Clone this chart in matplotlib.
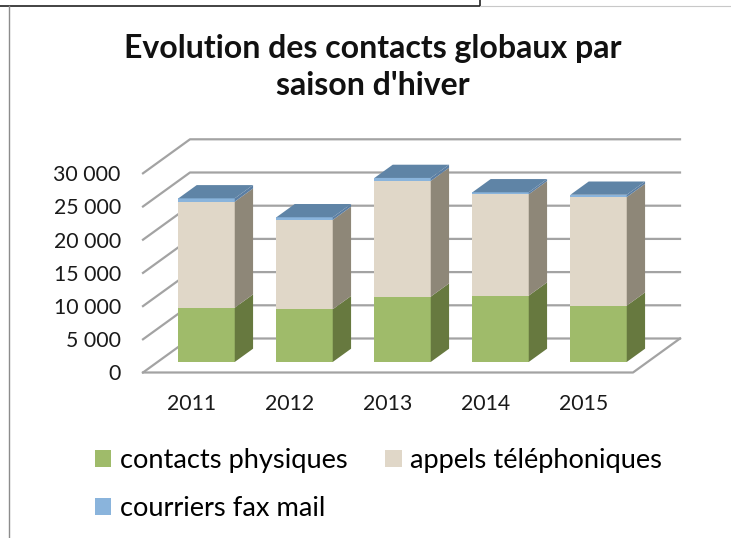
# -*- coding: utf-8 -*-

import matplotlib
matplotlib.use('Agg')
import matplotlib.pyplot as plt
from matplotlib.patches import Polygon, Patch
from matplotlib.lines import Line2D

# data
years = ['2011', '2012', '2013', '2014', '2015']
physiques = [8180, 7940, 9840, 9990, 8480]
telephone = [15960, 13450, 17420, 15260, 16350]
courriers = [500, 400, 450, 300, 350]

value_ticks = [0, 5000, 10000, 15000, 20000, 25000, 30000]
value_labels = ['0', '5 000', '10 000', '15 000', '20 000', '25 000', '30 000']

series_names = ['contacts physiques', 'appels téléphoniques', 'courriers fax mail']
front_colors = ['#9fbb6a', '#e0d7c8', '#8ab4dc']
side_colors = ['#67793f', '#8e8778', '#5b7ea3']
top_color = '#5f84a6'
grid_color = '#a3a3a3'

W, H = 731, 538

# depth of the fake 3D box, in data units
DEPTH_X = 47 / 98.0
DEPTH_Y = 34 / 33.2 * 5000
BAR_WIDTH = 0.575
BAR_D0 = 0.31
BAR_D1 = 0.70


def proj(x, v, d):
    return (x + d * DEPTH_X, v + d * DEPTH_Y)


def draw_bar(ax, i, segments):
    x0 = i - BAR_WIDTH / 2
    x1 = i + BAR_WIDTH / 2
    bottom = 0
    for value, front, side in segments:
        top = bottom + value
        ax.add_patch(Polygon([proj(x0, bottom, BAR_D0), proj(x1, bottom, BAR_D0),
                              proj(x1, top, BAR_D0), proj(x0, top, BAR_D0)],
                             fc=front, ec='none', zorder=3, clip_on=False))
        ax.add_patch(Polygon([proj(x1, bottom, BAR_D0), proj(x1, bottom, BAR_D1),
                              proj(x1, top, BAR_D1), proj(x1, top, BAR_D0)],
                             fc=side, ec='none', zorder=3, clip_on=False))
        bottom = top
    ax.add_patch(Polygon([proj(x0, bottom, BAR_D0), proj(x1, bottom, BAR_D0),
                          proj(x1, bottom, BAR_D1), proj(x0, bottom, BAR_D1)],
                         fc=top_color, ec='none', zorder=3, clip_on=False))


plt.rcParams['font.family'] = ['Lato', 'DejaVu Sans']
fig = plt.figure(figsize=(W / 100, H / 100), dpi=100)

# axes box = front plane of the chart
left, right, base, upper = 143, 633, 372.5, 173.3
ax = fig.add_axes([left / W, 1 - base / H, (right - left) / W, (base - upper) / H])
ax.set_xlim(-0.5, 4.5)
ax.set_ylim(0, 30000)
ax.patch.set_visible(False)
for s in ax.spines.values():
    s.set_visible(False)

ax.set_xticks(range(len(years)))
ax.set_xticklabels(years, fontsize=15.3, color='#1a1a1a')
ax.set_yticks(value_ticks)
ax.set_yticklabels(value_labels, fontsize=15.3, color='#1a1a1a')
ax.tick_params(axis='x', length=0, pad=15.5)
ax.tick_params(axis='y', length=0, pad=16)

# walls and floor
for v in value_ticks:
    xs, ys = zip(proj(-0.5, v, 0), proj(-0.5, v, 1), proj(4.5, v, 1))
    ax.add_line(Line2D(xs, ys, color=grid_color, lw=1.6, zorder=1, clip_on=False))
xs, ys = zip(proj(-0.5, 0, 0), proj(4.5, 0, 0), proj(4.5, 0, 1))
ax.add_line(Line2D(xs, ys, color=grid_color, lw=1.6, zorder=1, clip_on=False))

for i in range(len(years)):
    draw_bar(ax, i, zip([physiques[i], telephone[i], courriers[i]], front_colors, side_colors))

handles = [Patch(fc=front_colors[0], label=series_names[0]),
           Patch(fc=front_colors[2], label=series_names[2]),
           Patch(fc=front_colors[1], label=series_names[1])]
fig.legend(handles=handles, ncol=2, frameon=False, fontsize=19.6,
           loc='upper left', bbox_to_anchor=(95 / W, 1 - 448 / H),
           handlelength=0.6, handleheight=0.6, handletextpad=0.3,
           columnspacing=1.4, labelspacing=0.84, borderpad=0, borderaxespad=0)

fig.text(373 / W, 1 - 67 / H, "Evolution des contacts globaux par\nsaison d'hiver",
         ha='center', va='center', fontsize=23, fontweight='bold', color='#111111',
         linespacing=1.35)

# bits of the surrounding window
fig.add_artist(Line2D([0, 480 / W, 480 / W], [1 - 6 / H, 1 - 6 / H, 1], color='#222222', lw=1.2))
fig.add_artist(Line2D([480 / W, 1], [1 - 6 / H, 1 - 6 / H], color='#c8c8c8', lw=0.8))
fig.add_artist(Line2D([8.5 / W, 8.5 / W], [0, 1 - 6 / H], color='#8c8c8c', lw=1.0))

fig.savefig('out.png', dpi=100)
